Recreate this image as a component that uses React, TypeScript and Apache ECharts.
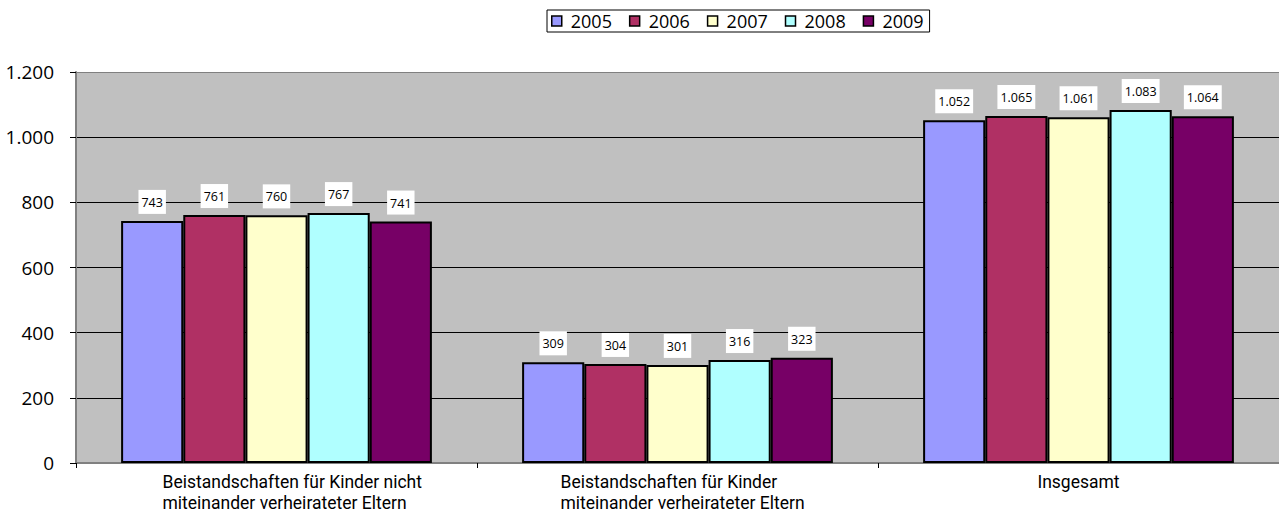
import React, { useEffect, useRef } from "react";
import * as echarts from "echarts";

const categories: string[][] = [
  ["Beistandschaften für Kinder nicht", "miteinander verheirateter Eltern"],
  ["Beistandschaften für Kinder", "miteinander verheirateter Eltern"],
  ["Insgesamt"],
];
const years = ["2005", "2006", "2007", "2008", "2009"];
const v2005 = [743, 309, 1052];
const v2006 = [761, 304, 1065];
const v2007 = [760, 301, 1061];
const v2008 = [767, 316, 1083];
const v2009 = [741, 323, 1064];
const seriesValues = [v2005, v2006, v2007, v2008, v2009];
const colors = ["#9999FF", "#B03064", "#FFFFCC", "#B0FFFF", "#770066"];
const yTicks = [0, 200, 400, 600, 800, 1000, 1200];

const FONT = "'Open Sans', 'Noto Sans', sans-serif";
const CAT_FONT = "Roboto, 'Open Sans', sans-serif";

function fmt(n: number): string {
  return String(n).replace(/\B(?=(\d{3})+(?!\d))/g, ".");
}

export default function App() {
  const ref = useRef<HTMLDivElement>(null);
  useEffect(() => {
    if (!ref.current) return;
    const chart = echarts.init(ref.current, undefined, { renderer: "svg" });
    const catStyle = { fontSize: 17.5, lineHeight: 20.5, color: "#000", fontFamily: CAT_FONT };
    chart.setOption({
      animation: false,
      textStyle: { fontFamily: FONT },
      legend: {
        data: years,
        left: 547,
        top: 10,
        padding: [2, 6, 2, 4],
        borderColor: "#000",
        borderWidth: 1,
        itemGap: 17,
        itemWidth: 10,
        itemHeight: 10,
        icon: "rect",
        itemStyle: { borderColor: "#000", borderWidth: 1.5 },
        textStyle: { fontSize: 18, color: "#000", fontFamily: FONT, padding: [0, 0, 0, 4] },
      },
      grid: {
        left: 76,
        right: 0,
        top: 72,
        bottom: 52,
        show: true,
        backgroundColor: "#C0C0C0",
        borderWidth: 0,
        containLabel: false,
        outerBoundsMode: "none",
      },
      xAxis: {
        type: "category",
        data: categories.map((c) => c.join("\n")),
        axisLine: { show: true, lineStyle: { color: "#808080", width: 2 } },
        axisTick: { show: true, length: 5, lineStyle: { color: "#000" } },
        axisLabel: {
          margin: 9,
          color: "#000",
          fontSize: 17.5,
          fontFamily: CAT_FONT,
          lineHeight: 20.5,
          formatter: (_v: string, i: number) =>
            categories[i].map((l) => `{c${i}|${l}}`).join("\n"),
          rich: {
            c0: { ...catStyle, width: 266, align: "left", padding: [0, 0, 0, 38] },
            c1: { ...catStyle, width: 234, align: "left" },
            c2: { ...catStyle },
          },
        },
      },
      yAxis: {
        type: "value",
        min: 0,
        max: 1200,
        interval: 200,
        axisLine: { show: true, lineStyle: { color: "#808080", width: 2 } },
        axisTick: { show: true, length: 6, lineStyle: { color: "#000" } },
        axisLabel: {
          margin: 22,
          fontSize: 19,
          color: "#000",
          fontFamily: FONT,
          formatter: (v: number) => (yTicks.includes(v) ? fmt(v) : ""),
        },
        splitLine: {
          show: true,
          lineStyle: {
            color: ["#000", "#000", "#000", "#000", "#000", "#000", "#808080"],
            width: 1,
          },
        },
      },
      series: years.map((y, k) => ({
        name: y,
        type: "bar",
        data: seriesValues[k],
        barGap: "0%",
        barCategoryGap: "22.5%",
        itemStyle: { color: colors[k], borderColor: "#000", borderWidth: 2 },
        label: {
          show: true,
          position: "top",
          distance: 7,
          backgroundColor: "#fff",
          padding: [6, 3, 5, 3],
          fontSize: 12.5,
          color: "#000",
          fontFamily: FONT,
          formatter: (p: any) => fmt(p.value),
        },
      })),
    });
    return () => chart.dispose();
  }, []);
  return (
    <div
      ref={ref}
      style={{ position: "absolute", left: 0, top: 0, width: 1279, height: 515, background: "#fff" }}
    />
  );
}
